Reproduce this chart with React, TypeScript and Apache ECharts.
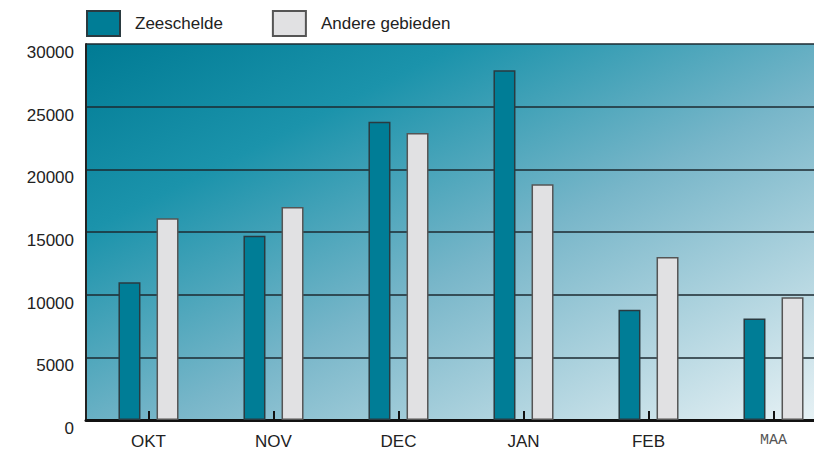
import React, { useEffect, useRef } from "react";
import * as echarts from "echarts";

const categories = ["OKT", "NOV", "DEC", "JAN", "FEB", "MAA"];
const zeeschelde = [11000, 14700, 23800, 27900, 8800, 8100];
const andere = [16100, 17000, 22900, 18800, 13000, 9800];
const yTicks = [0, 5000, 10000, 15000, 20000, 25000, 30000];

export default function App() {
  const ref = useRef<HTMLDivElement>(null);
  useEffect(() => {
    const chart = echarts.init(ref.current!, null, { renderer: "svg" });
    const font = "'Liberation Sans', Arial, sans-serif";
    chart.setOption({
      animation: false,
      legend: {
        left: 86,
        top: 10,
        padding: 0,
        icon: "rect",
        itemWidth: 33,
        itemHeight: 25,
        itemGap: 49,
        textStyle: { fontFamily: font, fontSize: 17, color: "#222", padding: [0, 0, 0, 10] },
        data: ["Zeeschelde", "Andere gebieden"],
      },
      grid: {
        left: 86,
        top: 44,
        bottom: 28,
        right: 0,
        show: true,
        borderWidth: 0,
        backgroundColor: new echarts.graphic.LinearGradient(0, 0, 1, 1, [
          { offset: 0, color: "#007b94" },
          { offset: 0.25, color: "#1b93ab" },
          { offset: 0.55, color: "#78b6c9" },
          { offset: 1, color: "#eaf3f6" },
        ]),
      },
      xAxis: {
        type: "category",
        data: categories,
        axisLine: { show: true, lineStyle: { color: "#111", width: 3 } },
        axisTick: { show: true, inside: true, alignWithLabel: true, length: 9, lineStyle: { color: "#111", width: 2 } },
        axisLabel: {
          margin: 13,
          fontFamily: font,
          fontSize: 17,
          color: "#222",
          formatter: (v: string) => (v === "MAA" ? "{m|" + v + "}" : v),
          rich: { m: { fontFamily: "'Liberation Mono', monospace", fontSize: 15, color: "#555" } },
        },
      },
      yAxis: {
        type: "value",
        min: yTicks[0],
        max: yTicks[yTicks.length - 1],
        interval: 5000,
        axisLine: { show: true, lineStyle: { color: "#222", width: 2 } },
        axisTick: { show: false },
        splitLine: { show: true, lineStyle: { color: "#1d2a30", width: 1.5 } },
        axisLabel: {
          margin: 12,
          fontFamily: font,
          fontSize: 17,
          color: "#222",
          verticalAlign: "top",
          formatter: (v: number) => String(v),
        },
      },
      series: [
        {
          name: "Zeeschelde",
          type: "bar",
          data: zeeschelde,
          barWidth: 22,
          barGap: "73%",
          itemStyle: { color: "#007d96", borderColor: "#2a3a40", borderWidth: 1.5 },
        },
        {
          name: "Andere gebieden",
          type: "bar",
          data: andere,
          barWidth: 22,
          itemStyle: { color: "#e1e1e3", borderColor: "#555", borderWidth: 1.5 },
        },
      ],
    });
    return () => chart.dispose();
  }, []);
  return (
    <div style={{ width: 814, height: 450, position: "absolute", left: 0, top: 0, overflow: "hidden" }}>
      <div ref={ref} style={{ width: 836, height: 450 }} />
    </div>
  );
}
